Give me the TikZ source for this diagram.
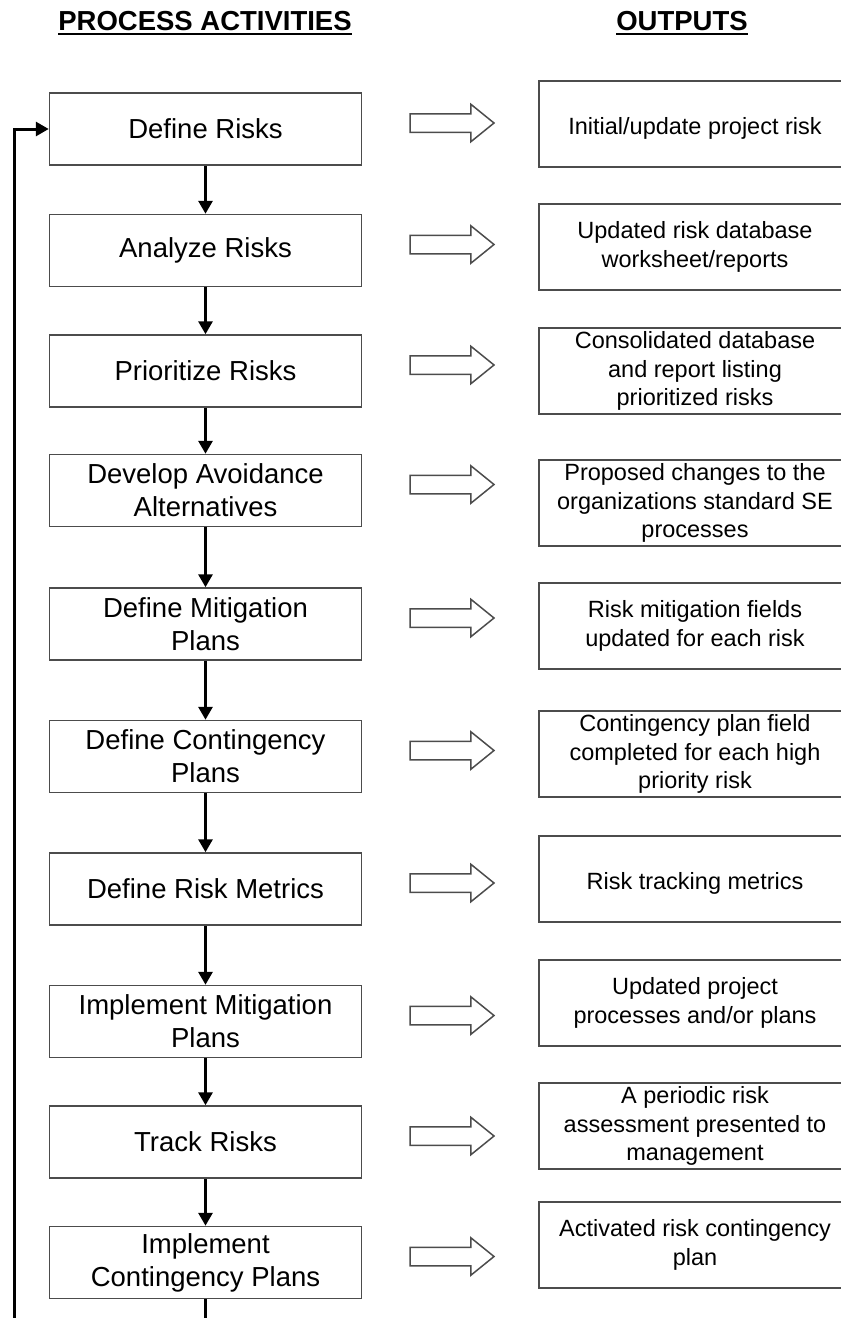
\documentclass[tikz,border=0pt]{standalone}
\usepackage{fontspec}
\setmainfont{Liberation Sans}
\usetikzlibrary{arrows.meta}
\usetikzlibrary{shapes.arrows}
\usetikzlibrary{positioning}
\tikzset{
  etapa/.style={draw=black!70, line width=1.5pt, minimum width=312pt, minimum height=72pt, inner sep=0pt, align=center, font=\fontsize{27.5}{33}\selectfont},
  saida/.style={draw=black!70, line width=1.5pt, minimum width=312pt, minimum height=86pt, inner sep=0pt, align=center, font=\fontsize{23.5}{28.5}\selectfont,
    execute at begin node={\rule{0pt}{25pt}}},
  oca/.style={single arrow, draw=black!70, line width=1.5pt, minimum height=84pt, minimum width=36pt, inner xsep=0pt, inner ysep=8.5pt, single arrow head extend=9.5pt, single arrow tip angle=78},
  fluxo/.style={-{Triangle[width=14pt,length=13pt]}, line width=3pt},
  titulo/.style={inner sep=0pt, font=\fontsize{27.5}{30}\selectfont\bfseries},
}

\begin{document}
\begin{tikzpicture}[x=1pt, y=-1pt]
  \useasboundingbox (0,0) rectangle (841,1318);
  \clip (0,0) rectangle (841,1318);
  % titulos
  \node[titulo, anchor=base] (tproc) at (205,30) {PROCESS ACTIVITIES};
  \node[titulo, anchor=base] (tsai) at (682,30) {OUTPUTS};
  \draw[line width=2.5pt] ([yshift=-4pt]tproc.base west) -- ([yshift=-4pt]tproc.base east);
  \draw[line width=2.5pt] ([yshift=-4pt]tsai.base west) -- ([yshift=-4pt]tsai.base east);
  % atividades
  \node[etapa] (a1) at (205.5,129) {Define Risks};
  \node[etapa, below=48pt of a1] (a2) {Analyze Risks};
  \node[etapa, below=47pt of a2] (a3) {Prioritize Risks};
  \node[etapa, below=46pt of a3] (a4) {Develop Avoidance\\Alternatives};
  \node[etapa, below=60pt of a4] (a5) {Define Mitigation\\Plans};
  \node[etapa, below=59pt of a5] (a6) {Define Contingency\\Plans};
  \node[etapa, below=59pt of a6] (a7) {Define Risk Metrics};
  \node[etapa, below=59pt of a7] (a8) {Implement Mitigation\\Plans};
  \node[etapa, below=47pt of a8] (a9) {Track Risks};
  \node[etapa, below=47pt of a9] (a10) {Implement\\Contingency Plans};
  % saidas
  \node[saida] (s1) at (695,124) {Initial/update project risk};
  \node[saida] (s2) at (695,247) {Updated risk database\\worksheet/reports};
  \node[saida] (s3) at (695,371) {Consolidated database\\and report listing\\prioritized risks};
  \node[saida] (s4) at (695,503) {Proposed changes to the\\organizations standard SE\\processes};
  \node[saida] (s5) at (695,626) {Risk mitigation fields\\updated for each risk};
  \node[saida] (s6) at (695,754) {Contingency plan field\\completed for each high\\priority risk};
  \node[saida] (s7) at (695,879) {Risk tracking metrics};
  \node[saida] (s8) at (695,1003) {Updated project\\processes and/or plans};
  \node[saida] (s9) at (695,1126) {A periodic risk\\assessment presented to\\management};
  \node[saida] (s10) at (695,1245) {Activated risk contingency\\plan};
  % setas ocas
  \foreach \i in {1,...,10}
    \node[oca, right=47pt of a\i, yshift=6pt] (h\i) {};
  % fluxo
  \foreach \i [remember=\i as \prev (initially 1)] in {2,...,10}
    \draw[fluxo] (a\prev) -- (a\i);
  \coordinate (fimfluxo) at (205.5,1318);
  \coordinate (retorno) at (14,1318);
  \draw[line width=3pt] (a10) -- (fimfluxo);
  \draw[fluxo] (retorno) |- (a1);
\end{tikzpicture}
\end{document}
